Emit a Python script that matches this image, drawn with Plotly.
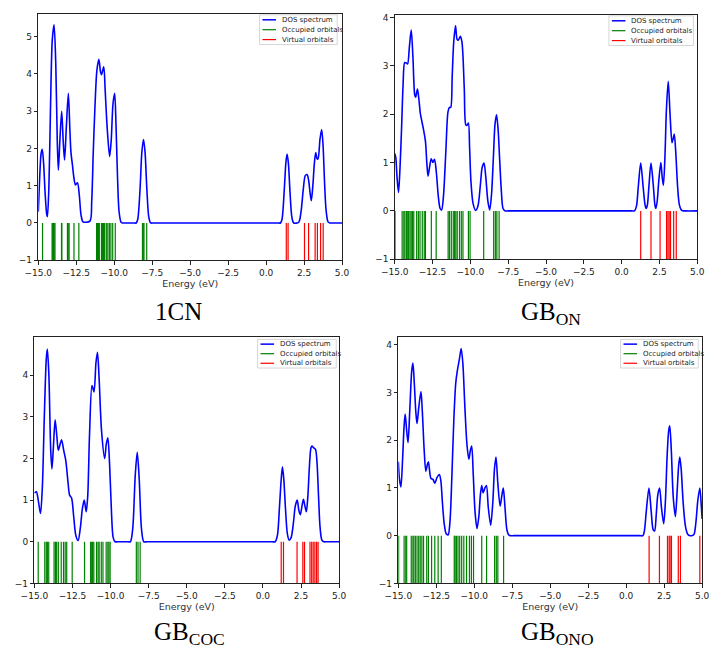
import plotly.graph_objects as go

# ---------------- data ----------------
# Panel 1: 1CN
e_1cn = [-15.0, -14.9, -14.82, -14.74, -14.65, -14.55, -14.45, -14.4, -14.3, -14.2, -14.08, -13.96,
         -13.85, -13.75, -13.68, -13.58, -13.46, -13.36, -13.27, -13.15, -13.02, -12.92, -12.85,
         -12.75, -12.65, -12.55, -12.42, -12.3, -12.18, -12.05, -11.6, -11.48, -11.38, -11.27,
         -11.14, -11.01, -10.9, -10.84, -10.69, -10.6, -10.5, -10.42, -10.3, -10.2, -10.08, -9.97,
         -9.88, -9.78, -9.68, -9.55, -9.45, -9.3, -8.7, -8.55, -8.45, -8.3, -8.18, -8.07, -7.97,
         -7.85, -7.72, -7.6, -7.4, 0.75, 0.95, 1.05, 1.2, 1.3, 1.38, 1.47, 1.58, 1.7, 1.82, 2.15,
         2.3, 2.45, 2.58, 2.7, 2.8, 2.9, 2.98, 3.08, 3.18, 3.27, 3.36, 3.42, 3.55, 3.66, 3.75, 3.85,
         3.95, 4.08, 4.2, 4.4, 5.0]
d_1cn = [0.3, 1.3, 1.85, 1.98, 1.6, 0.8, 0.25, 0.17, 1.0, 3.0, 4.9, 5.32,
         4.3, 2.2, 1.42, 2.2, 3.0, 2.2, 1.69, 2.6, 3.48, 2.5, 1.9,
         1.55, 1.2, 1.02, 1.08, 0.75, 0.2, 0.03, 0.05, 0.6, 1.9, 3.1,
         4.1, 4.39, 4.05, 3.98, 4.19, 3.6, 2.8, 2.3, 1.78, 2.2, 3.2, 3.48,
         2.6, 1.2, 0.3, 0.02, 0.0, 0.0, 0.0, 0.0, 0.1, 0.9, 1.9, 2.24, 1.9,
         0.9, 0.15, 0.0, 0.0, 0.0, 0.0, 0.1, 0.9, 1.6, 1.85, 1.6, 0.8, 0.15, 0.0, 0.02,
         0.3, 0.9, 1.27, 1.3, 1.15, 0.8, 0.6, 1.0, 1.6, 1.89, 1.72, 1.72, 2.25, 2.51, 2.1, 1.1,
         0.35, 0.03, 0.0, 0.0, 0.0]
occ_1cn = [-14.72, -14.09, -14.05, -14.0, -13.95, -13.9, -13.47, -13.45, -13.08, -13.03, -12.97,
           -12.65, -12.33, -11.16, -11.1, -11.04, -10.98, -10.84, -10.78, -10.7, -10.63, -10.52,
           -10.42, -10.32, -10.22, -10.1, -9.93, -8.14, -8.09, -8.04, -7.86]
vir_1cn = [1.33, 1.45, 2.53, 2.8, 3.23, 3.38, 3.59, 3.76]

# Panel 2: GB_ON
e_gbon = [-15.0, -14.93, -14.85, -14.75, -14.65, -14.55, -14.45, -14.34, -14.23, -14.15, -14.03,
          -13.91, -13.8, -13.68, -13.62, -13.5, -13.4, -13.3, -13.12, -12.97, -12.88, -12.8, -12.7,
          -12.59, -12.48, -12.37, -12.25, -12.12, -12.0, -11.9, -11.78, -11.62, -11.48, -11.38,
          -11.3, -11.2, -11.1, -10.98, -10.88, -10.8, -10.66, -10.56, -10.49, -10.4, -10.3, -10.22,
          -10.13, -10.05, -9.96, -9.82, -9.65, -9.5, -9.35, -9.22, -9.1, -8.98, -8.85, -8.72, -8.6,
          -8.48, -8.37, -8.27, -8.17, -8.06, -7.95, -7.84, -7.7, -7.5, 0.65, 0.85, 0.98, 1.1, 1.26,
          1.42, 1.55, 1.62, 1.7, 1.8, 1.94, 2.1, 2.2, 2.26, 2.35, 2.45, 2.59, 2.68, 2.76, 2.86, 2.96,
          3.08, 3.2, 3.33, 3.41, 3.48, 3.58, 3.7, 3.82, 3.97, 4.2, 5.0]
d_gbon = [1.19, 1.1, 0.7, 0.38, 0.9, 1.7, 2.6, 3.07, 3.06, 3.04, 3.4,
          3.74, 3.2, 2.4, 2.35, 2.52, 2.3, 2.0, 1.72, 1.44, 1.0, 0.72, 0.9,
          1.08, 1.0, 1.07, 0.8, 0.3, 0.05, 0.02, 0.3, 1.24, 2.05, 2.14,
          2.14, 2.8, 3.5, 3.83, 3.55, 3.53, 3.61, 3.5, 3.21, 2.5, 1.78, 1.77,
          1.82, 1.3, 0.6, 0.15, 0.01, 0.1, 0.5, 0.9, 0.99, 0.7, 0.22, 0.02, 0.35,
          1.1, 1.8, 1.99, 1.7, 1.04, 0.4, 0.05, 0.0, 0.0, 0.0, 0.0, 0.1, 0.5, 0.99,
          0.5, 0.12, 0.05, 0.12, 0.5, 0.99, 0.5, 0.12, 0.05, 0.2, 0.6, 1.0, 0.7, 0.53, 1.1, 2.1,
          2.68, 2.0, 1.41, 1.5, 1.59, 1.2, 0.5, 0.12, 0.01, 0.0, 0.0]
occ_gbon = [-14.98, -14.51, -14.40, -14.33, -14.23, -14.14, -14.08, -13.99, -13.91, -13.82, -13.74,
            -13.55, -13.44, -13.33, -13.18, -13.05, -12.97, -12.58, -12.26, -11.47, -11.38, -11.26,
            -11.13, -11.04, -10.96, -10.87, -10.72, -10.60, -10.49, -10.13, -10.02, -9.12, -8.46,
            -8.35, -8.25, -8.10]
vir_gbon = [1.26, 1.94, 2.54, 2.97, 3.06, 3.14, 3.23, 3.44, 3.61]

# Panel 3: GB_COC
e_gbcoc = [-15.0, -14.87, -14.75, -14.6, -14.48, -14.35, -14.22, -14.15, -14.05, -13.93, -13.85,
           -13.75, -13.64, -13.52, -13.43, -13.22, -13.08, -12.94, -12.8, -12.69, -12.56, -12.42,
           -12.28, -12.13, -11.98, -11.85, -11.73, -11.6, -11.5, -11.38, -11.22, -11.09, -10.96,
           -10.86, -10.75, -10.6, -10.39, -10.28, -10.18, -10.07, -9.95, -9.83, -9.7, -9.55, -8.85,
           -8.7, -8.55, -8.38, -8.25, -8.12, -7.97, -7.82, -7.6, 0.6, 0.8, 0.95, 1.08, 1.2, 1.28,
           1.37, 1.48, 1.6, 1.72, 1.85, 2.0, 2.12, 2.25, 2.36, 2.45, 2.56, 2.66, 2.76, 2.85, 2.95,
           3.05, 3.15, 3.22, 3.32, 3.45, 3.55, 3.65, 3.75, 3.87, 4.0, 4.2, 5.0]
d_gbcoc = [1.17, 1.2, 1.0, 0.68, 1.3, 3.0, 4.4, 4.63, 4.0, 2.2, 1.75,
           2.3, 2.93, 2.5, 2.2, 2.45, 2.2, 1.95, 1.45, 1.12, 1.05, 0.6,
           0.15, 0.03, 0.35, 0.8, 1.0, 0.72, 1.1, 2.6, 3.75, 3.6, 4.3,
           4.55, 3.9, 2.7, 2.0, 2.35, 2.5, 1.9, 0.8, 0.1, 0.0, 0.0, 0.0,
           0.0, 0.3, 1.6, 2.15, 1.5, 0.3, 0.0, 0.0, 0.0, 0.0, 0.15, 0.8, 1.5, 1.8,
           1.5, 0.8, 0.2, 0.04, 0.1, 0.45, 0.85, 1.0, 0.75, 0.65, 0.85, 1.02, 0.85, 0.72, 1.1,
           1.8, 2.25, 2.3, 2.26, 2.22, 1.9, 1.1, 0.35, 0.04, 0.0, 0.0, 0.0]
occ_gbcoc = [-14.75, -14.32, -14.22, -14.15, -14.06, -13.71, -13.62, -13.54, -13.43, -13.24, -13.09,
             -12.98, -12.88, -12.52, -11.71, -11.31, -11.24, -11.18, -11.10, -10.92, -10.82, -10.75,
             -10.61, -10.50, -10.29, -10.18, -10.11, -10.03, -8.31, -8.20, -8.06]
vir_gbcoc = [1.2, 1.35, 2.24, 2.62, 2.73, 3.09, 3.2, 3.3, 3.41, 3.52, 3.62]

# Panel 4: GB_ONO
e_gbono = [-15.0, -14.93, -14.83, -14.72, -14.62, -14.55, -14.45, -14.36, -14.25, -14.12, -14.04,
           -13.95, -13.85, -13.77, -13.65, -13.51, -13.42, -13.3, -13.19, -13.08, -13.02, -12.92,
           -12.85, -12.72, -12.6, -12.45, -12.3, -12.2, -12.1, -11.98, -11.85, -11.72, -11.6, -11.48,
           -11.35, -11.22, -11.12, -10.98, -10.86, -10.75, -10.62, -10.48, -10.36, -10.25, -10.17,
           -10.07, -9.95, -9.82, -9.7, -9.6, -9.51, -9.42, -9.3, -9.2, -9.08, -8.92, -8.78, -8.67,
           -8.57, -8.45, -8.3, -8.18, -8.09, -7.98, -7.85, -7.72, -7.6, -7.4, 0.9, 1.1, 1.2, 1.32,
           1.5, 1.65, 1.78, 1.87, 1.98, 2.08, 2.2, 2.32, 2.47, 2.58, 2.7, 2.8, 2.87, 2.97, 3.1, 3.24,
           3.35, 3.45, 3.53, 3.62, 3.75, 3.9, 4.05, 4.2, 4.45, 4.58, 4.72, 4.85, 4.95, 5.0]
d_gbono = [1.55, 1.2, 1.02, 1.6, 2.3, 2.55, 2.2, 1.95, 2.6, 3.45, 3.62,
           3.2, 2.6, 2.35, 2.7, 3.02, 2.6, 1.8, 1.35, 1.5, 1.55, 1.3,
           1.2, 1.18, 1.1, 1.22, 1.28, 1.15, 0.7, 0.25, 0.04, 0.02, 0.3, 1.2,
           2.4, 3.2, 3.45, 3.7, 3.92, 3.6, 2.7, 1.9, 1.6, 1.8, 1.88,
           1.3, 0.5, 0.15, 0.4, 0.85, 1.05, 0.9, 1.0, 1.05, 0.6, 0.22, 0.7, 1.4,
           1.65, 1.1, 0.62, 0.85, 1.0, 0.6, 0.12, 0.01, 0.0, 0.0, 0.0, 0.0, 0.1, 0.5,
           1.0, 0.5, 0.12, 0.1, 0.45, 0.85, 1.0, 0.6, 0.25, 0.7, 1.7, 2.2, 2.3, 1.8, 0.8, 0.4,
           0.9, 1.45, 1.65, 1.4, 0.7, 0.2, 0.03, 0.0, 0.02, 0.25, 0.75, 1.0, 0.6, 0.35]
occ_gbono = [-14.98, -14.62, -14.51, -14.45, -14.15, -14.04, -13.98, -13.88, -13.77, -13.66, -13.56,
             -13.45, -13.34, -13.13, -13.02, -12.81, -12.6, -12.38, -12.17, -11.32, -11.26, -11.17,
             -11.07, -10.96, -10.83, -10.69, -10.51, -10.32, -10.19, -10.05, -9.51, -9.19, -8.66,
             -8.55, -8.45, -8.07]
vir_gbono = [1.51, 2.19, 2.72, 2.83, 2.89, 2.98, 3.43, 3.57, 4.85]

captions = ["1CN", "GB<sub>ON</sub>", "GB<sub>COC</sub>", "GB<sub>ONO</sub>"]
series_names = ["DOS spectrum", "Occupied orbitals", "Virtual orbitals"]
x_ticks = [-15.0, -12.5, -10.0, -7.5, -5.0, -2.5, 0.0, 2.5, 5.0]

panels = [
    (e_1cn, d_1cn, occ_1cn, vir_1cn),
    (e_gbon, d_gbon, occ_gbon, vir_gbon),
    (e_gbcoc, d_gbcoc, occ_gbcoc, vir_gbcoc),
    (e_gbono, d_gbono, occ_gbono, vir_gbono),
]

# ---------------- layout geometry (pixels of a 713x654 page) ----------------
W, H = 713, 654
x_domains = [[0.0351, 0.4740], [0.5502, 0.9874], [0.0295, 0.4698], [0.5554, 0.9944]]
y_domains = [[0.6009, 0.9821], [0.6024, 0.9797], [0.1014, 0.4817], [0.1014, 0.4827]]
y_tops = [5.62, 4.05, 4.91, 4.17]
legend_boxes = [(253, 13, 333, 43), (613, 14, 700, 44), (251, 341, 332, 370), (625, 341, 705, 370)]
caption_pos = [(0.237, 0.5459), (0.776, 0.5459), (0.254, 0.0505), (0.785, 0.0505)]

BLUE, GREEN, RED = "#0000ff", "#008000", "#ff0000"
colors = [BLUE, GREEN, RED]
widths = [1.5, 1.2, 1.2]


def stick_lines(energies):
    xs, ys = [], []
    for e in energies:
        xs += [e, e, None]
        ys += [-1, 0, None]
    return xs, ys


def px(x):
    return x / W


def py(y):
    return 1 - y / H


fig = go.Figure()
shapes, annotations = [], []
layout = dict(
    width=W, height=H,
    margin=dict(l=0, r=0, t=0, b=0),
    paper_bgcolor="white", plot_bgcolor="white",
    font=dict(family="DejaVu Sans", size=9, color="#222"),
    showlegend=False,
)

for i, (e, d, occ, vir) in enumerate(panels):
    n = i + 1
    sx = "" if n == 1 else str(n)
    fig.add_trace(go.Scatter(
        x=e, y=d, mode="lines", name=series_names[0],
        line=dict(color=BLUE, width=1.6, shape="spline", smoothing=0.8),
        xaxis=f"x{sx}", yaxis=f"y{sx}"))
    ox, oy = stick_lines(occ)
    fig.add_trace(go.Scatter(
        x=ox, y=oy, mode="lines", name=series_names[1],
        line=dict(color=GREEN, width=1.2), xaxis=f"x{sx}", yaxis=f"y{sx}"))
    vx, vy = stick_lines(vir)
    fig.add_trace(go.Scatter(
        x=vx, y=vy, mode="lines", name=series_names[2],
        line=dict(color=RED, width=1.2), xaxis=f"x{sx}", yaxis=f"y{sx}"))

    axis_common = dict(showline=True, linecolor="#222", linewidth=1, mirror=True,
                       ticks="outside", ticklen=3.5, tickwidth=0.8, tickcolor="#222",
                       showgrid=False, zeroline=False,
                       tickfont=dict(family="DejaVu Sans", size=9, color="#222"))
    layout[f"xaxis{sx}"] = dict(
        domain=x_domains[i], anchor=f"y{sx}", range=[-15, 5],
        tickvals=x_ticks, tickformat=".1f",
        title=dict(text="Energy (eV)", font=dict(size=9.5, color="#333"), standoff=3),
        **axis_common)
    layout[f"yaxis{sx}"] = dict(
        domain=y_domains[i], anchor=f"x{sx}", range=[-1, y_tops[i]],
        dtick=1, tick0=0, **axis_common)

    # legend box (matplotlib style, upper right)
    bx0, by0, bx1, by1 = legend_boxes[i]
    shapes.append(dict(type="rect", xref="paper", yref="paper", layer="above",
                       x0=px(bx0), x1=px(bx1), y0=py(by1), y1=py(by0),
                       line=dict(color="#cccccc", width=0.8),
                       fillcolor="rgba(255,255,255,0.85)"))
    row_h = (by1 - by0) / 3.0
    for k in range(3):
        yc = by0 + row_h * (k + 0.5)
        shapes.append(dict(type="line", xref="paper", yref="paper", layer="above",
                           x0=px(bx0 + 3), x1=px(bx0 + 17), y0=py(yc), y1=py(yc),
                           line=dict(color=colors[k], width=widths[k])))
        annotations.append(dict(text=series_names[k], x=px(bx0 + 21), y=py(yc),
                                xref="paper", yref="paper", xanchor="left", yanchor="middle",
                                showarrow=False,
                                font=dict(family="DejaVu Sans", size=7, color="#222")))
    cx, cy = caption_pos[i]
    annotations.append(dict(
        text=captions[i], x=cx, y=cy, xref="paper", yref="paper",
        xanchor="center", yanchor="top", showarrow=False,
        font=dict(family="Liberation Serif", size=25, color="black")))

layout["shapes"] = shapes
layout["annotations"] = annotations
fig.update_layout(**layout)
fig.write_html("out.html", config={"displayModeBar": False},
               post_script="document.body.style.margin='0';document.body.style.overflow='hidden';")
